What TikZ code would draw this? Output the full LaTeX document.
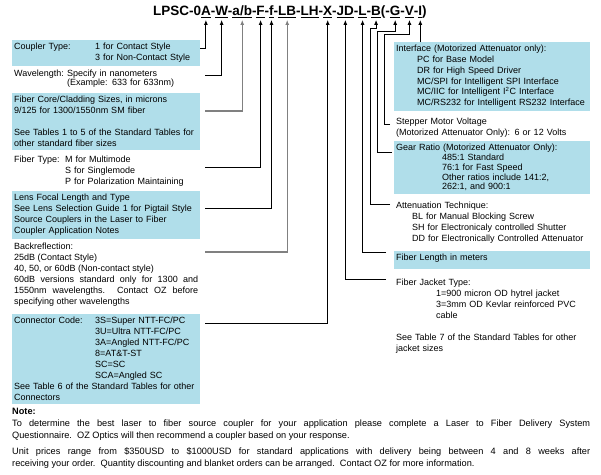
\documentclass[tikz,border=0pt]{standalone}
\usepackage{fontspec}
\setmainfont{Liberation Sans}
\usepackage{xcolor}
\usetikzlibrary{positioning,calc,arrows.meta}
\definecolor{paleblue}{HTML}{B0DEEA}
\definecolor{leadgray}{HTML}{808080}
\newcommand{\ucode}[1]{\setbox0\hbox{#1}\rlap{\rule[-1.9pt]{\wd0}{0.8pt}}\box0}

\begin{document}
\begin{tikzpicture}[x=1pt,y=-1pt,
    txt/.style={anchor=north west,inner xsep=2pt,inner ysep=3pt,align=left,font=\fontsize{9}{11}\selectfont},
    lbox/.style={txt,text width=184pt},
    rbox/.style={txt,text width=192pt},
    shaded/.style={fill=paleblue},
    seg/.style={inner sep=0pt,outer sep=0pt,anchor=base west,font=\fontsize{13.5}{16}\selectfont\bfseries},
    lead/.style={line width=0.9pt,-{Latex[length=5pt,width=4pt]},shorten >=2.5pt},
    greylead/.style={lead,leadgray,line width=1.1pt}]
    \useasboundingbox (0,0) rectangle (601,474);

    % part number, one node per code
    \node[seg] (p0) at (153,15.5) {LPSC-0};
    \foreach \nm/\tx [remember=\nm as \prev (initially p0)] in
      {cA/\ucode{A}, d1/-, cW/\ucode{W}, d2/-, cab/{\ucode{a/b}}, d3/-, cF/\ucode{F}, d4/-,
       cf/\ucode{f}, d5/-, cLB/\ucode{LB}, d6/-, cLH/\ucode{LH}, d7/-, cX/\ucode{X}, d8/-,
       cJD/\ucode{JD}, d9/-, cL/\ucode{L}, d10/-, cB/\ucode{B}, d11/(-, cG/\ucode{G}, d12/-,
       cV/\ucode{V}, d13/-, cI/\ucode{I}, d14/)}
      \node[seg] (\nm) at (\prev.base east) {\tx};

    % left column
    \node[lbox,shaded] (coupler) at (12,40) {\makebox[81pt][l]{Coupler Type:}1 for Contact Style\\\hspace*{81pt}3 for Non-Contact Style};
    \node[lbox] (wave) at (12,67) {\makebox[53pt][l]{Wavelength:}Specify in nanometers\\[-2pt]\hspace*{53pt}(Example: 633 for 633nm)};
    \node[lbox,shaded] (core) at (12,93) {Fiber Core/Cladding Sizes, in microns\\9/125 for 1300/1550nm SM fiber\\[11pt]See Tables 1 to 5 of the Standard Tables for\\other standard fiber sizes};
    \node[lbox] (ftype) at (12,153) {\makebox[51pt][l]{Fiber Type:}M for Multimode\\\hspace*{51pt}S for Singlemode\\\hspace*{51pt}P for Polarization Maintaining};
    \node[lbox,shaded] (lens) at (12,191) {Lens Focal Length and Type\\See Lens Selection Guide 1 for Pigtail Style\\Source Couplers in the Laser to Fiber\\Coupler Application Notes};
    \node[lbox,align=justify] (backr) at (12,240) {Backreflection:\\25dB (Contact Style)\\40, 50, or 60dB (Non-contact  style)\\60dB versions standard only for 1300 and\linebreak 1550nm wavelengths.\ \ Contact OZ before\linebreak specifying other wavelengths};
    \node[lbox,shaded] (conn) at (12,314) {\makebox[81pt][l]{Connector Code:}3S=Super NTT-FC/PC\\\hspace*{81pt}3U=Ultra NTT-FC/PC\\\hspace*{81pt}3A=Angled NTT-FC/PC\\\hspace*{81pt}8=AT\&T-ST\\\hspace*{81pt}SC=SC\\\hspace*{81pt}SCA=Angled SC\\See Table 6 of the Standard Tables for other\\Connectors};

    % right column
    \node[rbox,shaded,font=\fontsize{9}{10.8}\selectfont] (iface) at (394,42) {Interface (Motorized Attenuator only):\\\hspace*{21pt}PC for Base Model\\\hspace*{21pt}DR for High Speed Driver\\\hspace*{21pt}MC/SPI for Intelligent SPI Interface\\\hspace*{21pt}MC/IIC for Intelligent I\textsuperscript{2}C Interface\\\hspace*{21pt}MC/RS232 for Intelligent RS232 Interface};
    \node[rbox] (stepper) at (394,115) {Stepper Motor Voltage\\(Motorized Attenuator Only): 6 or 12 Volts};
    \node[rbox,shaded,font=\fontsize{9}{9.8}\selectfont] (gear) at (394,141) {Gear Ratio (Motorized Attenuator Only):\\\hspace*{46pt}485:1 Standard\\\hspace*{46pt}76:1 for Fast Speed\\\hspace*{46pt}Other ratios include 141:2,\\\hspace*{46pt}262:1, and 900:1};
    \node[rbox] (atten) at (394,199) {Attenuation Technique:\\\hspace*{16pt}BL for Manual Blocking Screw\\\hspace*{16pt}SH for Electronicaly controlled Shutter\\\hspace*{16pt}DD for Electronically Controlled Attenuator};
    \node[rbox,shaded,text depth=5pt] (flen) at (394,251) {Fiber Length in meters};
    \node[rbox] (jacket) at (394,276) {Fiber Jacket Type:\\\hspace*{40pt}1=900 micron OD hytrel jacket\\\hspace*{40pt}3=3mm OD Kevlar reinforced PVC\\\hspace*{40pt}cable\\[11pt]See Table 7 of the Standard Tables for other\\jacket sizes};

    % note
    \node[txt,text width=578pt,align=justify,font=\fontsize{9.2}{12}\selectfont] (note) at (10,405) {\textbf{Note:}\\To determine the best laser to fiber source coupler for your application please complete a Laser to Fiber Delivery System\linebreak Questionnaire.\ \ OZ Optics will then recommend a coupler based on your response.\par\vspace{4pt}Unit prices range from \$350USD to \$1000USD for standard applications with delivery being between 4 and 8 weeks after\linebreak receiving your order.\ \ Quantity discounting and blanket orders can be arranged.\ \ Contact OZ for more information.};

    % leads
    \draw[lead] ([shift={(0,8)}]coupler.north east) -| (cA.south);
    \draw[lead] ([shift={(5,8)}]wave.north east) -| (cW.south);
    \draw[greylead] ([shift={(5,18)}]core.north east) -| (cab.south);
    \draw[lead] ([shift={(5,14)}]ftype.north east) -| (cF.south);
    \draw[lead] ([shift={(5,17)}]lens.north east) -| (cf.south);
    \draw[greylead] ([shift={(5,12)}]backr.north east) -| (cLB.south);
    \draw[lead] ([shift={(5,9)}]conn.north east) -| (cX.south);
    \draw[lead] ([shift={(-8,3)}]jacket.north west) -| (cJD.south);
    \draw[lead] ([shift={(-8,1)}]flen.north west) -| (cL.south);
    \draw[lead] ([shift={(-4,5)}]atten.north west) -| (370,28) -| (cB.south);
    \draw[lead] ([shift={(-2,11)}]gear.north west) -| (377,31) -| (cG.south);
    \draw[lead] ([shift={(-4,9)}]stepper.north west) -| (384,34) -| (cV.south);
    \draw[lead] (cI.south |- iface.north) -- (cI.south);
\end{tikzpicture}
\end{document}
